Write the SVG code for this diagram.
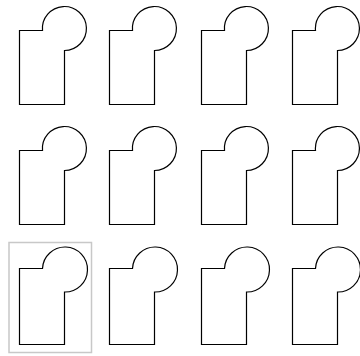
<svg xmlns="http://www.w3.org/2000/svg" xmlns:xlink="http://www.w3.org/1999/xlink" width="360" height="356" viewBox="0 0 360 356">
<style>
.shape{fill:#ffffff;stroke:#000000;stroke-width:1.2}
.sel{fill:none;stroke:#c8c8c8;stroke-width:1.5}
</style>
<defs>
<path id="shp" class="shape" d="M19.5,30.5 H42.5 A22,22 0 1 1 64.5,50.5 V104.5 H19.5 Z"/>
<path id="shp3" class="shape" d="M19.5,268.5 H42.5 A22.5,22.5 0 1 1 64.5,292 V344.5 H19.5 Z"/>
</defs>
<rect width="360" height="356" fill="#ffffff"/>
<g id="tile-1-1"><use xlink:href="#shp" href="#shp" transform="translate(0,0)"/></g>
<g id="tile-1-2"><use xlink:href="#shp" href="#shp" transform="translate(90,0)"/></g>
<g id="tile-1-3"><use xlink:href="#shp" href="#shp" transform="translate(182,0)"/></g>
<g id="tile-1-4"><use xlink:href="#shp" href="#shp" transform="translate(273,0)"/></g>
<g id="tile-2-1"><use xlink:href="#shp" href="#shp" transform="translate(0,120)"/></g>
<g id="tile-2-2"><use xlink:href="#shp" href="#shp" transform="translate(90,120)"/></g>
<g id="tile-2-3"><use xlink:href="#shp" href="#shp" transform="translate(182,120)"/></g>
<g id="tile-2-4"><use xlink:href="#shp" href="#shp" transform="translate(273,120)"/></g>
<g id="tile-3-1"><rect class="sel" x="9" y="242.5" width="82.5" height="110"/><use xlink:href="#shp3" href="#shp3" transform="translate(0,0)"/></g>
<g id="tile-3-2"><use xlink:href="#shp3" href="#shp3" transform="translate(90,0)"/></g>
<g id="tile-3-3"><use xlink:href="#shp3" href="#shp3" transform="translate(182,0)"/></g>
<g id="tile-3-4"><use xlink:href="#shp3" href="#shp3" transform="translate(273,0)"/></g>
<g id="connectors"></g>
</svg>
